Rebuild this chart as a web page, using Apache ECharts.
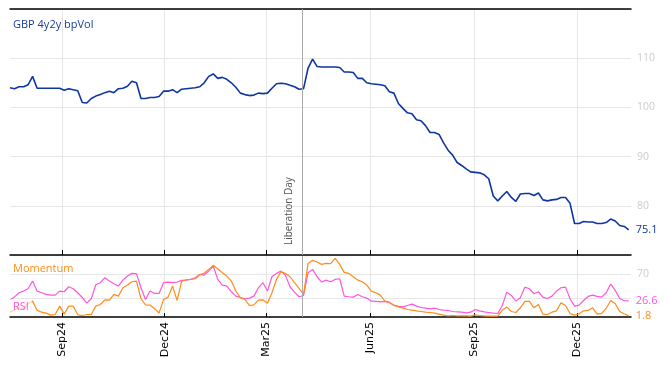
<!DOCTYPE html>
<html>
<head>
<meta charset="utf-8">
<script src="https://cdn.jsdelivr.net/npm/echarts@6/dist/echarts.min.js"></script>
<style>
html,body{margin:0;padding:0;background:#fff;}
#chart{width:668px;height:366px;}
</style>
</head>
<body>
<div id="chart"></div>
<script>
// ---- data ----
const startDate = '2024-07-17';
const stepDays = 4;
const axisMinDate = '2024-07-17';
const axisMaxDate = '2026-01-18';
const eventDate = '2025-04-02';
const eventLabel = 'Liberation Day';
const tickDates = ['2024-09-01','2024-12-01','2025-03-01','2025-06-01','2025-09-01','2025-12-01'];
const tickLabels = ['Sep24','Dec24','Mar25','Jun25','Sep25','Dec25'];
const mainName = 'GBP 4y2y bpVol';
const momName = 'Momentum';
const rsiName = 'RSI';
const mainValues = [
104.0,103.8,104.2,104.2,104.6,106.3,103.9,103.9,103.9,103.9,
103.9,103.9,103.5,103.8,103.6,103.4,101.0,100.9,101.8,102.3,
102.6,103.0,103.3,103.0,103.8,103.9,104.3,105.3,105.0,101.8,
101.8,102.0,102.0,102.2,103.3,103.3,103.6,103.0,103.7,103.8,
103.9,104.0,104.2,105.0,106.3,106.8,105.9,106.1,105.7,105.0,
104.1,102.9,102.6,102.4,102.5,102.9,102.8,102.9,103.9,104.8,
104.9,104.8,104.5,104.2,103.7,103.8,108.0,109.8,108.3,108.2,
108.2,108.2,108.2,108.1,107.2,107.2,107.1,105.9,105.9,105.0,
104.8,104.7,104.6,104.4,103.2,102.9,100.8,99.8,98.9,98.7,
97.5,97.3,96.3,94.9,94.9,94.5,92.8,91.3,90.3,88.8,
88.2,87.5,86.9,86.8,86.7,86.3,85.5,82.0,81.0,82.0,
82.9,81.7,80.9,82.4,82.5,82.5,82.1,82.6,81.2,81.0,
81.2,81.3,81.7,81.7,80.5,76.4,76.4,76.8,76.7,76.7,
76.4,76.4,76.6,77.3,76.9,76.0,75.8,75.1];
const rsiValues = [
28,33,39.7,42.5,46.3,58.9,42.5,39.7,37,35.9,
35.9,42.5,41.4,49.6,46.3,39.7,32,22.7,29.9,52.9,
56.2,64.4,58.9,54.5,50.7,60.5,67.1,71.5,71,47.9,
28.8,42.5,38.6,38.6,56.2,57.3,56.2,57.3,60,60.5,
61.6,64.4,69.9,68.8,75.3,83.6,61.6,52.3,50.7,41.4,
34.2,32,29.9,31,34.2,47.9,56.2,42.5,66,71.5,
75.3,68.2,49.6,40.8,33.2,35.3,72.6,78.1,66,57.3,
60.5,57.8,61.6,62.7,34.2,33.2,32.6,37,33.2,31,
26,25.5,24.9,25.5,23.3,19.5,17.3,16.7,18.9,21.1,
17.8,15.6,14.5,13.4,14.5,12.3,11.2,10.7,9,8.5,
7.9,6.8,7.9,12.3,10.1,8.5,7.4,6.3,5.8,18.9,
40.8,35.3,26,31.5,49,46.3,38.1,41.4,32.6,30.4,
34.2,42.5,47.9,49,29.9,17.8,19.5,27.1,33.7,35.9,
33.7,32.6,39.7,54,43.6,30.4,26.6,26.6];
const momValues = [
8,12,15,14,22,26,11.2,7.9,6.3,3,
4.1,17.8,4.7,17.8,17.8,3.6,2.5,4.1,4.1,17.8,
20.5,28.2,27.7,37,34.2,47.9,52.3,57.8,58.9,29.9,
20,19.5,14,6.3,28.8,32.6,50.7,27.1,58.4,61.1,
61.6,62.7,69.3,72,78.1,84.7,79.2,72.6,67.1,58.9,
42.5,31.5,28.8,18.9,20,27.7,28.2,22.7,39.7,61.6,
74.2,71.5,66,56.2,46.8,37,87.9,92.9,90.1,86.3,
87.9,87.4,96.2,86.3,73.2,71.5,66,60.5,57.8,52.3,
42.5,39.7,35.9,26,24.4,18.9,16.7,14.5,12.3,11.2,
10.1,9,7.9,7.4,6.3,4.7,3,1.9,2.5,1.9,
1.9,1.9,1.4,3.6,2.5,1.9,1.4,1.4,1.4,11.2,
16.2,9,7.4,15.1,25.5,25.5,15.1,20.5,4.7,4.1,
7.9,10.1,23.3,18.9,5.8,3,5.2,10.1,10.7,15.1,
4.7,5.8,14,27.1,22.2,9,5.2,1.8];

// ---- build ----
function ts(s){const p=s.split('-').map(Number);return Date.UTC(p[0],p[1]-1,p[2]);}
const DAY = 86400000;
const t0 = ts(startDate);
const times = mainValues.map((_,i)=>t0 + i*stepDays*DAY);
const tMin = ts(axisMinDate), tMax = ts(axisMaxDate);
const tickTimes = tickDates.map(ts);
const evT = ts(eventDate);

const C_MAIN = '#0d36a5', C_MOM = '#ff8c1a', C_RSI = '#ff55dd';
const GRID = '#e6e6e6';
const FONT = "'Open Sans', sans-serif";

function fmtTick(v){
  let best=0,bd=Infinity;
  tickTimes.forEach((t,i)=>{const d=Math.abs(t-v); if(d<bd){bd=d;best=i;}});
  return tickLabels[best];
}

const chart = echarts.init(document.getElementById('chart'), null, {renderer:'canvas'});
chart.setOption({
  animation:false,
  backgroundColor:'#fff',
  title:[
    {text:mainName,left:10,top:17,textStyle:{color:'#1a3d9c',fontSize:11,fontWeight:'normal',fontFamily:FONT},padding:[2,3]},
    {text:momName,left:10,top:261,textStyle:{color:C_MOM,fontSize:11,fontWeight:'normal',fontFamily:FONT},padding:[2,3]},
    {text:rsiName,left:10,top:299,textStyle:{color:C_RSI,fontSize:11,fontWeight:'normal',fontFamily:FONT},padding:[2,3],backgroundColor:'rgba(255,255,255,0.6)'}
  ],
  grid:[
    {left:10,top:9,width:621,height:246},
    {left:10,top:256,width:621,height:61}
  ],
  xAxis:[
    {type:'value',gridIndex:0,min:tMin,max:tMax,
     axisLine:{show:true,lineStyle:{color:'#000',width:1.5}},
     axisTick:{show:true,inside:true,length:5,lineStyle:{color:'#000'},customValues:tickTimes},
     axisLabel:{show:false,customValues:tickTimes},
     splitLine:{show:true,lineStyle:{color:GRID,width:1}}},
    {type:'value',gridIndex:0,position:'top',min:tMin,max:tMax,
     axisLine:{show:true,onZero:false,lineStyle:{color:'#000',width:1.5}},
     axisTick:{show:false},axisLabel:{show:false},splitLine:{show:false}},
    {type:'value',gridIndex:1,min:tMin,max:tMax,
     axisLine:{show:true,lineStyle:{color:'#000',width:1.5}},
     axisTick:{show:true,inside:true,length:4,lineStyle:{color:'#000'},customValues:tickTimes},
     axisLabel:{show:true,rotate:90,margin:5,color:'#000',fontSize:11,fontFamily:"'DejaVu Sans', sans-serif",customValues:tickTimes,formatter:fmtTick},
     splitLine:{show:true,lineStyle:{color:GRID,width:1}}}
  ],
  yAxis:[
    {type:'value',gridIndex:0,position:'right',min:70,max:120,interval:10,
     axisLine:{show:false},axisTick:{show:false},
     axisLabel:{color:'#cccccc',fontSize:10.5,fontFamily:FONT,margin:6,showMinLabel:false,showMaxLabel:false},
     splitLine:{show:true,lineStyle:{color:GRID,width:1}}},
    {type:'value',gridIndex:1,position:'right',min:0,max:100,
     axisLine:{show:false},axisTick:{show:false,customValues:[30,70]},
     axisLabel:{color:'#cccccc',fontSize:10.5,fontFamily:FONT,margin:6,customValues:[70]},
     splitLine:{show:true,lineStyle:{color:GRID,width:1}}}
  ],
  series:[
    {name:mainName,type:'line',xAxisIndex:0,yAxisIndex:0,
     data:times.map((t,i)=>[t,mainValues[i]]),
     showSymbol:false,symbol:'none',lineStyle:{color:C_MAIN,width:1.6},itemStyle:{color:C_MAIN},
     endLabel:{show:true,distance:7,color:C_MAIN,fontSize:11,fontFamily:FONT,formatter:p=>p.value[1].toFixed(1)},
     markLine:{silent:true,symbol:['none','none'],animation:false,
       lineStyle:{color:'#aaaaaa',width:1,type:'solid'},
       label:{show:true,formatter:eventLabel,position:'insideStartTop',color:'#555',fontSize:10,fontFamily:FONT,distance:[10,8]},
       data:[{xAxis:evT}]},
     z:3},
    {name:rsiName,type:'line',xAxisIndex:2,yAxisIndex:1,
     data:times.map((t,i)=>[t,rsiValues[i]]),
     showSymbol:false,symbol:'none',lineStyle:{color:C_RSI,width:1.2},itemStyle:{color:C_RSI},
     endLabel:{show:true,distance:7,color:C_RSI,fontSize:11,fontFamily:FONT,formatter:p=>p.value[1].toFixed(1)},
     markLine:{silent:true,symbol:['none','none'],animation:false,
       lineStyle:{color:'#aaaaaa',width:1,type:'solid'},label:{show:false},
       data:[{xAxis:evT}]},
     z:3},
    {name:momName,type:'line',xAxisIndex:2,yAxisIndex:1,
     data:times.map((t,i)=>[t,momValues[i]]),
     showSymbol:false,symbol:'none',lineStyle:{color:C_MOM,width:1.2},itemStyle:{color:C_MOM},
     endLabel:{show:true,distance:7,color:C_MOM,fontSize:11,fontFamily:FONT,formatter:p=>p.value[1].toFixed(1)},
     z:4}
  ]
});
</script>
</body>
</html>
